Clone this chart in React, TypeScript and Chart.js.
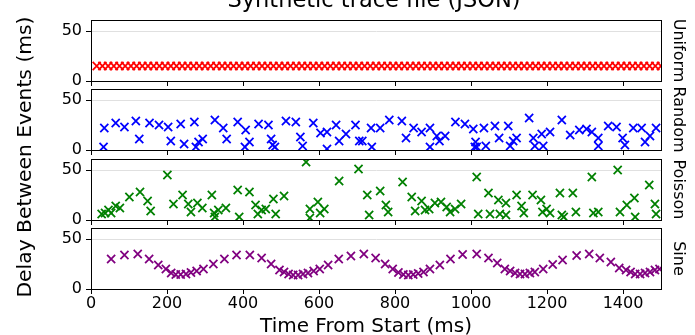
import React, { useEffect, useRef } from "react";
import { Chart, registerables } from "chart.js";

Chart.register(...registerables);

// ---------- text ----------
const FIG_TITLE = "Synthetic trace file (JSON)";
const X_LABEL = "Time From Start (ms)";
const Y_LABEL = "Delay Between Events (ms)";
const PANEL_LABELS = ["Uniform", "Random", "Poisson", "Sine"];
const PANEL_COLORS = ["#ff0000", "#0000ff", "#008000", "#800080"];

// ---------- ticks ----------
const X_TICKS = [0, 200, 400, 600, 800, 1000, 1200, 1400];
const Y_TICKS = [0, 50];
const X_MIN = 0;
const X_MAX = 1500;
const Y_MIN = 0;
const Y_MAX = 61;

// ---------- data ----------
// Uniform: constant delay, time = running sum of delays
const uniformDelays = [
  15, 15, 15, 15, 15, 15, 15, 15, 15, 15, 15, 15, 15, 15, 15, 15, 15, 15, 15, 15,
  15, 15, 15, 15, 15, 15, 15, 15, 15, 15, 15, 15, 15, 15, 15, 15, 15, 15, 15, 15,
  15, 15, 15, 15, 15, 15, 15, 15, 15, 15, 15, 15, 15, 15, 15, 15, 15, 15, 15, 15,
  15, 15, 15, 15, 15, 15, 15, 15, 15, 15, 15, 15, 15, 15, 15, 15, 15, 15, 15, 15,
  15, 15, 15, 15, 15, 15, 15, 15, 15, 15, 15, 15, 15, 15, 15, 15, 15, 15, 15, 15,
];

const randomTimes = [
  33, 35, 65, 88, 118, 127, 154, 179, 203, 210, 236, 245, 272, 276, 283, 294, 326, 348, 357, 386,
  405, 407, 417, 441, 467, 474, 478, 484, 513, 539, 551, 557, 585, 604, 621, 621, 645, 653, 671, 696,
  706, 714, 737, 739, 761, 785, 818, 829, 849, 870, 892, 892, 910, 917, 932, 959, 984, 1006, 1010, 1012,
  1015, 1034, 1039, 1063, 1074, 1098, 1103, 1111, 1120, 1153, 1164, 1168, 1186, 1190, 1208, 1239, 1261, 1285, 1304, 1318,
  1335, 1335, 1361, 1383, 1399, 1405, 1427, 1449, 1458, 1471, 1487,
];
const randomDelays = [
  3, 22, 27, 23, 29, 11, 27, 25, 23, 9, 26, 6, 28, 3, 8, 11, 30, 22, 11, 28,
  3, 20, 8, 26, 25, 11, 5, 3, 29, 28, 13, 4, 27, 17, 18, 1, 25, 9, 16, 25,
  9, 9, 22, 3, 22, 30, 29, 12, 22, 18, 22, 3, 14, 9, 14, 28, 26, 21, 3, 8,
  3, 22, 4, 24, 12, 24, 4, 9, 12, 32, 12, 4, 16, 4, 18, 30, 15, 20, 21, 18,
  12, 4, 24, 23, 12, 5, 22, 22, 8, 14, 22,
];

const poissonTimes = [
  28, 37, 46, 53, 65, 76, 101, 129, 149, 157, 201, 217, 241, 256, 263, 280, 293, 318, 324, 326,
  335, 355, 386, 390, 417, 433, 439, 449, 460, 480, 486, 508, 566, 576, 576, 597, 603, 614, 653, 704,
  727, 732, 761, 776, 782, 820, 844, 853, 870, 879, 890, 905, 921, 936, 945, 958, 974, 1015, 1019, 1046,
  1050, 1072, 1076, 1092, 1092, 1120, 1133, 1139, 1162, 1184, 1188, 1199, 1208, 1234, 1239, 1244, 1268, 1276, 1318, 1322,
  1335, 1386, 1392, 1410, 1430, 1432, 1469, 1484, 1487,
];
const poissonDelays = [
  6, 7, 10, 7, 14, 12, 23, 28, 19, 9, 45, 16, 25, 16, 8, 17, 12, 25, 7, 3,
  10, 12, 30, 3, 28, 15, 6, 10, 11, 21, 6, 24, 58, 11, 2, 18, 7, 11, 39, 51,
  25, 5, 29, 15, 8, 38, 23, 9, 19, 10, 11, 17, 18, 13, 8, 11, 16, 43, 6, 27,
  6, 20, 6, 17, 5, 25, 14, 7, 25, 20, 8, 11, 7, 27, 5, 3, 27, 8, 43, 7,
  8, 50, 8, 15, 22, 3, 35, 16, 6,
];

const sineTimes = [
  53, 88, 123, 153, 177, 197, 211, 223, 236, 250, 263, 278, 296, 322, 351, 383, 418, 449, 474, 496,
  508, 520, 532, 545, 558, 571, 586, 602, 624, 652, 684, 718, 749, 774, 794, 809, 822, 835, 848, 861,
  875, 892, 918, 946, 978, 1015, 1046, 1069, 1089, 1103, 1116, 1129, 1142, 1155, 1168, 1190, 1215, 1241, 1278, 1311,
  1339, 1368, 1390, 1408, 1420, 1432, 1445, 1458, 1471, 1484, 1496,
];
const sineDelays = [
  30, 34, 35, 30, 24, 20, 16, 14.5, 14.5, 15, 16.5, 18, 20, 25, 30, 34, 34, 31, 25, 19,
  17, 15, 14, 14, 15, 16, 18, 20, 24, 30, 33, 35, 31, 25, 20, 16.5, 14.5, 14, 14.5, 15.5,
  17, 20, 24, 30, 34.5, 35, 31, 26, 20, 18, 16, 15, 15, 16, 17, 20, 24.5, 29, 33.5, 35,
  31, 27, 21, 19, 17, 15, 15, 16, 17, 19, 20,
];

function runningSum(values: number[]): number[] {
  const out: number[] = [];
  let acc = 0;
  for (const v of values) {
    acc += v;
    out.push(acc);
  }
  return out;
}

const SERIES = [
  { times: runningSum(uniformDelays), delays: uniformDelays },
  { times: randomTimes, delays: randomDelays },
  { times: poissonTimes, delays: poissonDelays },
  { times: sineTimes, delays: sineDelays },
];

// ---------- layout (pixels) ----------
const W = 695;
const H = 335;
const PLOT_LEFT = 91;
const PLOT_RIGHT = 661;
const PANEL_TOPS = [20, 89, 159, 228];
const PANEL_H = 61;
const FONT = '"DejaVu Sans", "Liberation Sans", sans-serif';

type TextItem = { text: string; x: number; y: number; size: number; rot?: number };

function alignPx(p: number) {
  return Math.round(p - 0.5) + 0.5;
}

function makeConfig(i: number): any {
  const isBottom = i === 3;
  const top = PANEL_TOPS[i];
  const bottom = top + PANEL_H;
  const xH = isBottom ? H - bottom : 6;
  const padBottom = H - bottom - xH;
  const s = SERIES[i];
  const color = PANEL_COLORS[i];

  const items: TextItem[] = [
    { text: PANEL_LABELS[i], x: 674, y: top + PANEL_H / 2, size: 16, rot: Math.PI / 2 },
  ];
  if (i === 0) {
    items.push({ text: FIG_TITLE, x: 374, y: 7, size: 22.5 });
    items.push({ text: Y_LABEL, x: 30.5, y: 157, size: 20.3, rot: -Math.PI / 2 });
  }
  if (isBottom) {
    items.push({ text: X_LABEL, x: 366, y: 332, size: 20 });
  }

  const framePlugin = {
    id: "frame" + i,
    afterDatasetsDraw(chart: any) {
      const { ctx, chartArea: a } = chart;
      ctx.save();
      ctx.strokeStyle = "#000";
      ctx.lineWidth = 1;
      const l = alignPx(a.left), r = alignPx(a.right), t = alignPx(a.top), b = alignPx(a.bottom);
      ctx.strokeRect(l, t, r - l, b - t);
      ctx.restore();
    },
  };

  const textPlugin = {
    id: "figText" + i,
    afterDraw(chart: any) {
      const ctx = chart.ctx;
      for (const it of items) {
        ctx.save();
        ctx.translate(it.x, it.y);
        ctx.rotate(it.rot || 0);
        ctx.font = `${it.size}px ${FONT}`;
        ctx.fillStyle = "#000";
        ctx.textAlign = "center";
        ctx.textBaseline = "alphabetic";
        ctx.fillText(it.text, 0, 0);
        ctx.restore();
      }
    },
  };

  return {
    type: "scatter",
    data: {
      datasets: [
        {
          label: PANEL_LABELS[i],
          data: s.times.map((t, k) => ({ x: t, y: s.delays[k] })),
          pointStyle: "crossRot",
          pointRadius: 5.7,
          pointBorderWidth: 1.8,
          pointBorderColor: color,
          pointBackgroundColor: color,
          borderColor: color,
          backgroundColor: color,
          showLine: false,
          clip: 0,
        },
      ],
    },
    options: {
      animation: false,
      responsive: false,
      maintainAspectRatio: false,
      events: [],
      layout: {
        padding: { left: 0, top: top, right: W - PLOT_RIGHT, bottom: padBottom },
      },
      plugins: {
        legend: { display: false },
        tooltip: { enabled: false },
        title: { display: false },
      },
      scales: {
        x: {
          type: "linear",
          position: "bottom",
          min: X_MIN,
          max: X_MAX,
          afterBuildTicks: (sc: any) => {
            sc.ticks = X_TICKS.map((v) => ({ value: v }));
          },
          afterFit: (sc: any) => {
            sc.height = xH;
          },
          ticks: {
            display: isBottom,
            autoSkip: false,
            maxRotation: 0,
            color: "#000",
            font: { family: FONT, size: 16 },
            padding: 0,
            callback: (v: any) => String(v),
          },
          grid: { drawOnChartArea: false, tickColor: "#000", tickLength: 5, lineWidth: 1 },
          border: { color: "#000", width: 1 },
        },
        y: {
          type: "linear",
          position: "left",
          min: Y_MIN,
          max: Y_MAX,
          afterBuildTicks: (sc: any) => {
            sc.ticks = Y_TICKS.map((v) => ({ value: v }));
          },
          afterFit: (sc: any) => {
            sc.width = PLOT_LEFT;
          },
          ticks: {
            color: "#000",
            font: { family: FONT, size: 16 },
            padding: 4,
            callback: (v: any) => String(v),
          },
          grid: { color: "#e0e0e0", tickColor: "#000", tickLength: 5, lineWidth: 1 },
          border: { color: "#000", width: 1 },
        },
      },
    },
    plugins: [framePlugin, textPlugin],
  };
}

export default function App() {
  const r0 = useRef<HTMLCanvasElement>(null);
  const r1 = useRef<HTMLCanvasElement>(null);
  const r2 = useRef<HTMLCanvasElement>(null);
  const r3 = useRef<HTMLCanvasElement>(null);
  const refs = [r0, r1, r2, r3];

  useEffect(() => {
    const charts = refs.map((r, i) => new Chart(r.current as HTMLCanvasElement, makeConfig(i)));
    return () => charts.forEach((c) => c.destroy());
  }, []);

  return (
    <div style={{ position: "fixed", left: 0, top: 0, width: W, height: H, background: "#fff", overflow: "hidden" }}>
      {refs.map((r, i) => (
        <canvas
          key={i}
          ref={r}
          width={W}
          height={H}
          style={{ position: "absolute", left: 0, top: 0, width: W, height: H }}
        />
      ))}
    </div>
  );
}
